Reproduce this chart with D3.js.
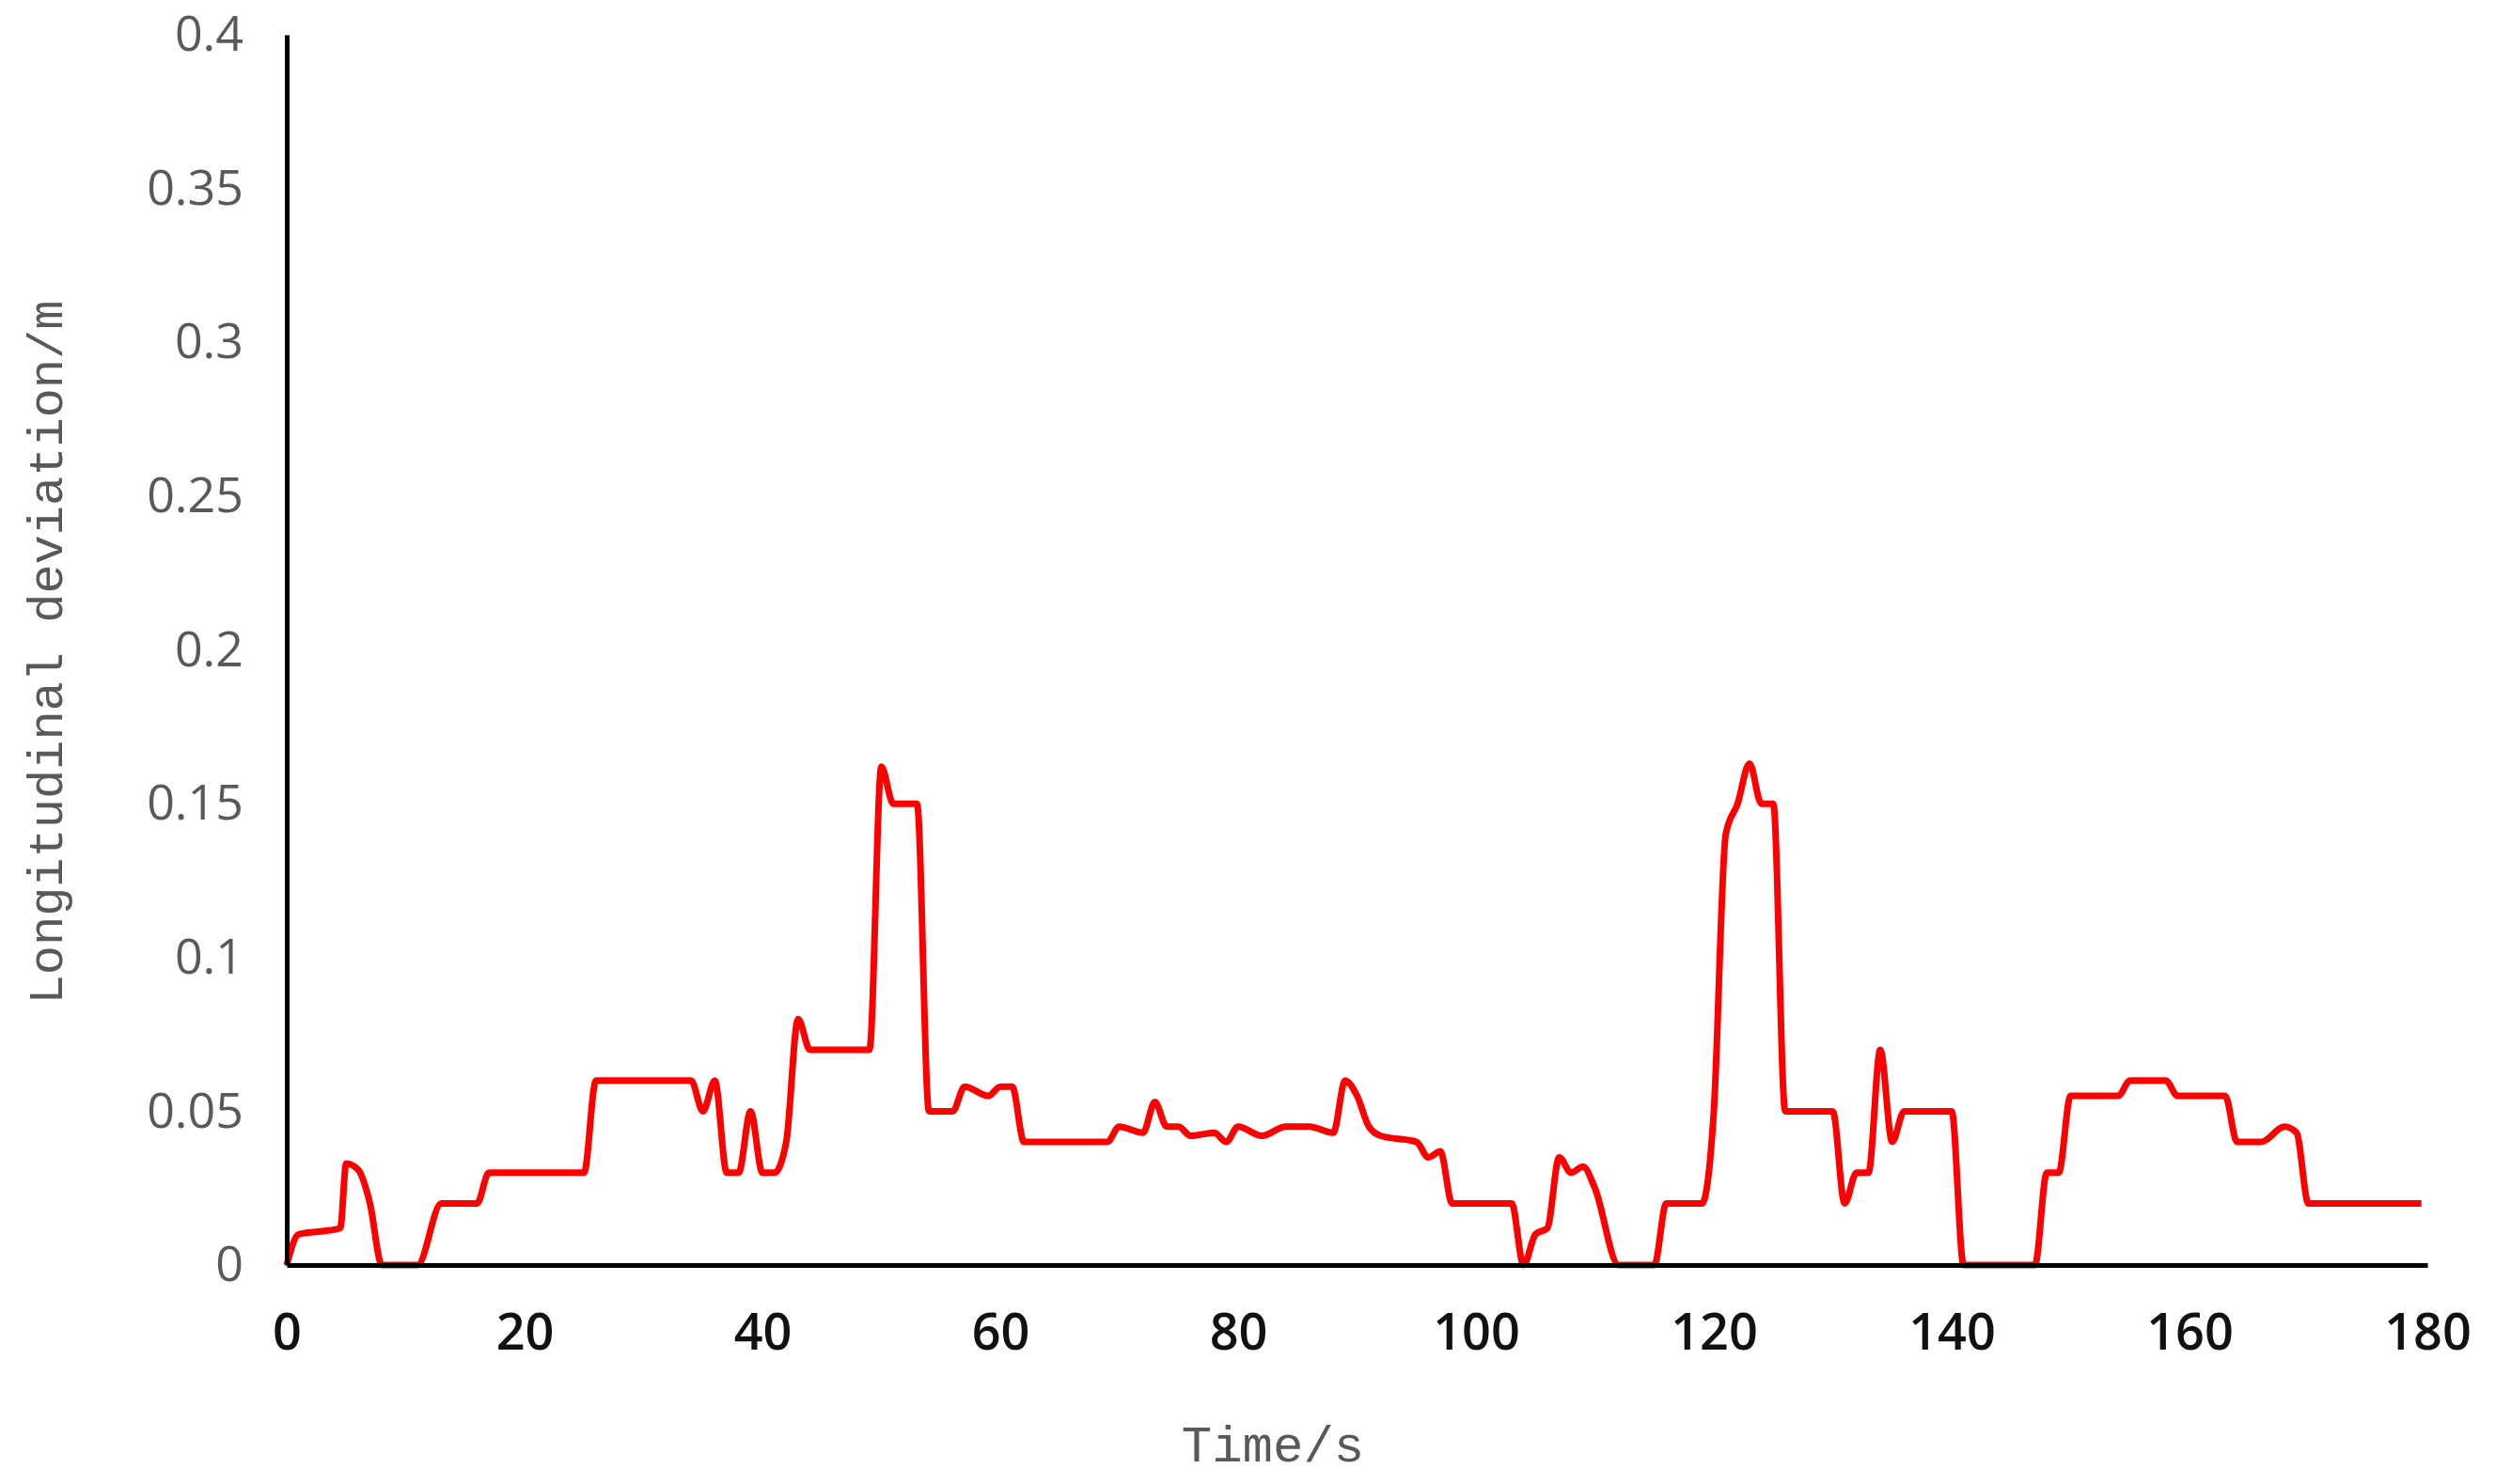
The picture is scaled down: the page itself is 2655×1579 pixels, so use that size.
<!DOCTYPE html>
<html><head><meta charset="utf-8">
<script src="https://cdn.jsdelivr.net/npm/d3@7"></script>
<style>body{margin:0;background:#fff}</style></head>
<body><svg id="c" width="2655" height="1579"></svg>
<script>
const times=[0,1,3,4.5,5,6,7,8,11,13,16,17,25,26,34,35,36,37,38,39,40,41,42,43,44,49,50,51,53,54,56,57,59,60,61,62,69,70,72,73,74,75,76,78,79,80,82,84,86,88,89,90,91,92,95,96,97,98,103,104,105,106,107,108,109,110,112,115,116,119,120,121,122,123,124,125,126,130,131,132,133,134,135,136,140,141,147,148,149,150,154,155,158,159,163,164,166,168,169,170,179.5];
const values=[0,0.01,0.011,0.012,0.033,0.031,0.02,0,0,0.02,0.02,0.03,0.03,0.06,0.06,0.05,0.06,0.03,0.03,0.05,0.03,0.03,0.04,0.08,0.07,0.07,0.162,0.15,0.15,0.05,0.05,0.058,0.055,0.058,0.058,0.04,0.04,0.045,0.043,0.053,0.045,0.045,0.042,0.043,0.04,0.045,0.042,0.045,0.045,0.043,0.06,0.055,0.045,0.042,0.04,0.035,0.037,0.02,0.02,0,0.01,0.012,0.035,0.03,0.032,0.025,0,0,0.02,0.02,0.05,0.14,0.15,0.163,0.15,0.15,0.05,0.05,0.02,0.03,0.03,0.07,0.04,0.05,0.05,0,0,0.03,0.03,0.055,0.055,0.06,0.06,0.055,0.055,0.04,0.04,0.045,0.043,0.02,0.02];
const xTicks=[0,20,40,60,80,100,120,140,160,180];
const yTicks=[0,0.05,0.1,0.15,0.2,0.25,0.3,0.35,0.4];
const svg=d3.select("#c");
const x=d3.scaleLinear().domain([0,180]).range([305,2582]);
const y=d3.scaleLinear().domain([0,0.4]).range([1346,37]);
const data=times.map((t,i)=>[t,values[i]]);
svg.append("path").datum(data).attr("fill","none").attr("stroke","#ff0000").attr("stroke-width",7)
 .attr("stroke-linejoin","round")
 .attr("d",d3.line().x(d=>x(d[0])).y(d=>y(d[1])).curve(d3.curveMonotoneX));
const ya=svg.append("g").attr("transform","translate(305,0)").call(d3.axisLeft(y).tickValues(yTicks).tickSize(0).tickPadding(46).tickFormat(d=>String(+d.toFixed(2))));
ya.select(".domain").attr("stroke","#000").attr("stroke-width",5);
ya.selectAll("text").attr("font-family","Open Sans, sans-serif").attr("font-size",52).attr("fill","#595959");
const xa=svg.append("g").attr("transform","translate(0,1346)").call(d3.axisBottom(x).tickValues(xTicks).tickSize(0).tickPadding(52));
xa.select(".domain").attr("stroke","#000").attr("stroke-width",5);
xa.selectAll("text").attr("font-family","Open Sans, sans-serif").attr("font-size",54).attr("font-weight",600).attr("fill","#111");
svg.append("text").attr("x",1354).attr("y",1555).attr("text-anchor","middle").attr("font-family","Liberation Mono, DejaVu Sans Mono, monospace").attr("font-size",54).attr("fill","#595959").text("Time/s");
svg.append("text").attr("transform","translate(66,694) rotate(-90)").attr("text-anchor","middle").attr("font-family","Liberation Mono, DejaVu Sans Mono, monospace").attr("font-size",52).attr("fill","#595959").text("Longitudinal deviation/m");
</script></body></html>
